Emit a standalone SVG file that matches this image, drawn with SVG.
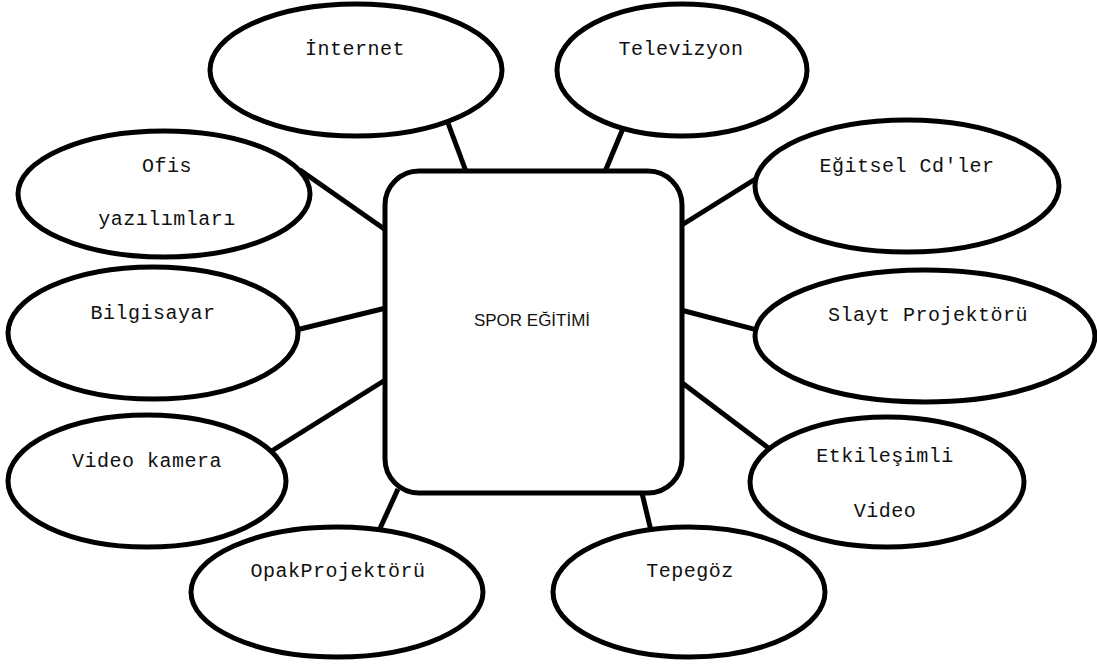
<svg xmlns="http://www.w3.org/2000/svg" width="1097" height="666" viewBox="0 0 1097 666">
<style>
.n{fill:#fff;stroke:#000;stroke-width:5}
.c line{stroke:#000;stroke-width:5}
.t{font-family:"Liberation Mono","Courier New",monospace;font-size:20px;letter-spacing:0.5px;text-anchor:middle;fill:#111}
.m{font-family:"Liberation Sans",Arial,sans-serif;font-size:17px;text-anchor:middle;fill:#111}
</style>
<rect width="1097" height="666" fill="#fff"/>
<g class="c" id="connectors">
<line x1="445" y1="115" x2="467" y2="174"/>
<line x1="624" y1="126" x2="604" y2="174"/>
<line x1="300" y1="170" x2="390" y2="233"/>
<line x1="292" y1="331" x2="390" y2="307"/>
<line x1="262" y1="457" x2="390" y2="377"/>
<line x1="377" y1="535" x2="398" y2="489"/>
<line x1="652" y1="535" x2="641" y2="489"/>
<line x1="677" y1="379" x2="775" y2="453"/>
<line x1="677" y1="228" x2="765" y2="173"/>
<line x1="677" y1="309" x2="765" y2="332"/>
</g>
<g id="center">
<rect class="n" x="385" y="171" width="297" height="322" rx="34" ry="34"/>
<text class="m" x="532" y="326">SPOR EĞİTİMİ</text>
</g>
<g id="internet">
<ellipse class="n" cx="356" cy="70" rx="146" ry="66"/>
<text class="t" x="355" y="55">İnternet</text>
</g>
<g id="televizyon">
<ellipse class="n" cx="682" cy="70" rx="125" ry="66"/>
<text class="t" x="681" y="55">Televizyon</text>
</g>
<g id="ofis">
<ellipse class="n" cx="164" cy="194" rx="146" ry="63"/>
<text class="t" x="167" y="172">Ofis</text>
<text class="t" x="167" y="225">yazılımları</text>
</g>
<g id="bilgisayar">
<ellipse class="n" cx="153" cy="333" rx="145" ry="66"/>
<text class="t" x="153" y="319">Bilgisayar</text>
</g>
<g id="videokamera">
<ellipse class="n" cx="147" cy="481" rx="139" ry="66"/>
<text class="t" x="147" y="467">Video kamera</text>
</g>
<g id="opak">
<ellipse class="n" cx="337" cy="592" rx="146" ry="65"/>
<text class="t" x="338" y="577">OpakProjektörü</text>
</g>
<g id="tepegoz">
<ellipse class="n" cx="689" cy="592" rx="136" ry="65"/>
<text class="t" x="690" y="577">Tepegöz</text>
</g>
<g id="etkilesimli">
<ellipse class="n" cx="887" cy="482" rx="137" ry="65"/>
<text class="t" x="885" y="462">Etkileşimli</text>
<text class="t" x="885" y="517">Video</text>
</g>
<g id="egitselcd">
<ellipse class="n" cx="907" cy="186" rx="152" ry="66"/>
<text class="t" x="907" y="172">Eğitsel Cd′ler</text>
</g>
<g id="slayt">
<ellipse class="n" cx="925" cy="336" rx="170" ry="66"/>
<text class="t" x="928" y="321">Slayt Projektörü</text>
</g>
</svg>
